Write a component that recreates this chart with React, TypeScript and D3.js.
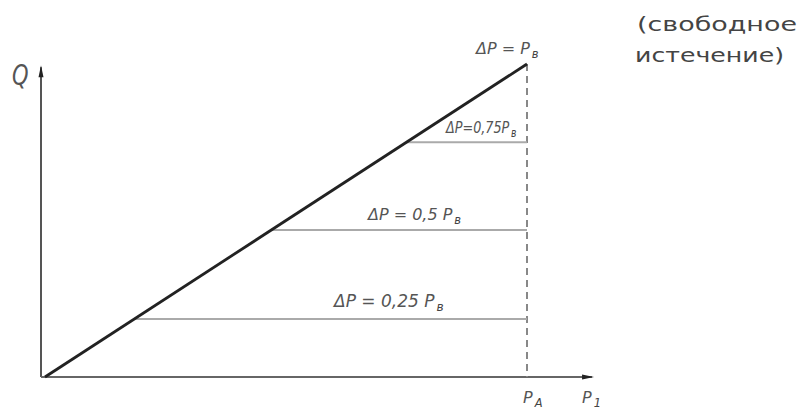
import { useEffect, useRef } from "react"
import * as d3 from "d3"

// Q / Qmax against P1 / PA
const linePoints: [number, number][] = [[0, 0], [1, 1]]
const levelQ = [0.75, 0.47, 0.185]
const levelLabels = ["ΔP=0,75P", "ΔP = 0,5 P", "ΔP = 0,25 P"]
const levelSubs = ["в", "в", "в"]
const topLabel = "ΔP = P"
const noteLines = ["(свободное", "истечение)"]

const W = 798
const H = 414

export default function App() {
    const ref = useRef<SVGSVGElement>(null)

    useEffect(() => {
        const svg = d3.select(ref.current)
        svg.selectAll("*").remove()

        const x = d3.scaleLinear([0, 1], [45, 527])
        const y = d3.scaleLinear([0, 1], [377, 64])
        const ink = "#222"
        const faint = "#888"

        // axes
        svg.append("line")
            .attr("x1", x(0) - 4).attr("x2", x(0) - 4)
            .attr("y1", y(0)).attr("y2", y(0.99))
            .attr("stroke", "#555").attr("stroke-width", 2)
        svg.append("path")
            .attr("d", `M${x(0) - 4},${y(0.99) - 2} l-2.5,12 l5,0 z`)
            .attr("fill", ink)
        svg.append("line")
            .attr("x1", x(0) - 4).attr("x2", x(1.135))
            .attr("y1", y(0)).attr("y2", y(0))
            .attr("stroke", "#666").attr("stroke-width", 2)
        svg.append("path")
            .attr("d", `M${x(1.135) + 2},${y(0)} l-12,-2.5 l0,5 z`)
            .attr("fill", ink)

        // vertical dashed line at PA
        svg.append("line")
            .attr("x1", x(1)).attr("x2", x(1))
            .attr("y1", y(1)).attr("y2", y(0))
            .attr("stroke", faint).attr("stroke-width", 2)
            .attr("stroke-dasharray", "7,5")

        // horizontal levels
        svg.selectAll(".lvl")
            .data(levelQ)
            .join("line")
            .attr("class", "lvl")
            .attr("x1", d => x(d)).attr("x2", x(1))
            .attr("y1", d => y(d)).attr("y2", d => y(d))
            .attr("stroke", "#aaa").attr("stroke-width", 2)

        // main line
        svg.append("path")
            .datum(linePoints)
            .attr("fill", "none")
            .attr("stroke", ink)
            .attr("stroke-width", 2.8)
            .attr("d", d3.line<[number, number]>().x(d => x(d[0])).y(d => y(d[1])))

        const lbl = (tx: number, ty: number, main: string, sub: string, size: number, sx = 1) => {
            const t = svg.append("text")
                .attr("transform", `translate(${tx},${ty}) scale(${sx},1)`)
                .attr("font-family", "DejaVu Sans")
                .attr("font-style", "italic")
                .attr("font-size", size)
                .attr("fill", "#555")
            t.append("tspan").text(main)
            if (sub) {
                t.append("tspan")
                    .attr("dx", 2).attr("dy", 4)
                    .attr("font-size", size * 0.72)
                    .attr("fill", "#444")
                    .text(sub)
            }
            return t
        }

        const labelPos: [number, number, number, number][] = [
            [446, 133, 16, 0.8], [368, 220, 16, 1], [334, 307, 17, 1]
        ]
        levelQ.forEach((_, i) => {
            const [lx, ly, fs, sx] = labelPos[i]
            lbl(lx, ly, levelLabels[i], levelSubs[i], fs, sx)
        })
        lbl(476, 54, topLabel, "в", 16)
        lbl(12, 85, "Q", "", 28, 0.75)
        lbl(523, 403, "P", "А", 16)
        lbl(582, 403, "P", "1", 16)

        svg.selectAll(".note")
            .data(noteLines)
            .join("text")
            .attr("class", "note")
            .attr("x", (_, i) => 637 - i * 2)
            .attr("y", (_, i) => 31 + i * 31)
            .attr("font-family", "DejaVu Sans")
            .attr("font-size", 19)
            .attr("fill", "#444")
            .attr("textLength", (_, i) => i === 0 ? 160 : 149)
            .attr("lengthAdjust", "spacingAndGlyphs")
            .text(d => d)
    }, [])

    return (
        <svg ref={ref} width={W} height={H}
            style={{ position: "absolute", left: 0, top: 0, background: "#fff" }} />
    )
}
